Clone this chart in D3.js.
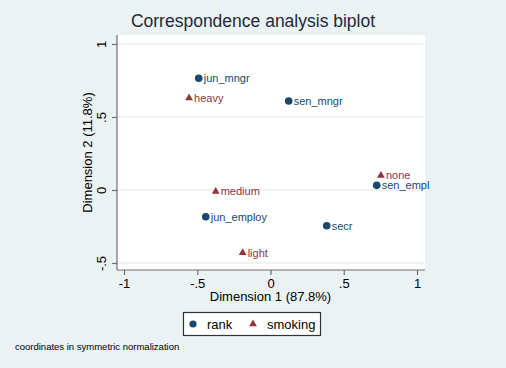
<!DOCTYPE html>
<html><head><meta charset="utf-8">
<script src="https://cdn.jsdelivr.net/npm/d3@7"></script>
<style>body{margin:0;background:#eaf2f3;}svg{display:block;}</style>
</head><body>
<svg id="c" width="506" height="368"></svg>
<script>
const rankLabels = ["jun_mngr","sen_mngr","sen_empl","jun_employ","secr"];
const rankX = [-0.49, 0.124, 0.725, -0.442, 0.384];
const rankY = [0.765, 0.61, 0.032, -0.183, -0.245];
const smokeLabels = ["heavy","none","medium","light"];
const smokeX = [-0.556, 0.754, -0.374, -0.19];
const smokeY = [0.63, 0.10, -0.01, -0.43];
const xTicks = [-1,-0.5,0,0.5,1];
const yTicks = [-0.5,0,0.5,1];
const tickFmt = v => v===0?"0":(v===1?"1":(v===-1?"-1":String(v).replace("0.",".")));

const svg = d3.select("#c");
const font = "'Liberation Sans', Arial, Helvetica, sans-serif";
svg.append("rect").attr("width",506).attr("height",368).attr("fill","#eaf2f3");

const L=117, R=425, T=35, B=270;
const x = d3.scaleLinear().domain([0,1]).range([270.5,417]);
const y = d3.scaleLinear().domain([0,1]).range([190,44]);

svg.append("rect").attr("x",L).attr("y",T).attr("width",R-L).attr("height",B-T).attr("fill","#ffffff");
// gridlines
svg.append("g").selectAll("line").data(yTicks).join("line")
  .attr("x1",L).attr("x2",R).attr("y1",d=>y(d)).attr("y2",d=>y(d))
  .attr("stroke","#eaf2f3").attr("stroke-width",1.5);

// axes
const xa = svg.append("g").attr("transform",`translate(0,${B})`)
  .call(d3.axisBottom(x).tickValues(xTicks).tickFormat(tickFmt).tickSize(5).tickPadding(4));
xa.select(".domain").attr("d",`M${L},0H${R}`);
const ya = svg.append("g").attr("transform",`translate(${L},0)`)
  .call(d3.axisLeft(y).tickValues(yTicks).tickFormat(tickFmt).tickSize(5).tickPadding(4));
ya.select(".domain").attr("d",`M0,${T}V${B}`);
[xa,ya].forEach(a=>{
  a.selectAll(".domain").attr("stroke","#6e6e6e").attr("stroke-width",1.2);
  a.selectAll(".tick line").attr("stroke","#6e6e6e").attr("stroke-width",1.2);
  a.selectAll("text").attr("font-family",font).attr("font-size",13).attr("fill","#000");
});
ya.selectAll(".tick text").attr("text-anchor","middle").attr("x",null).attr("dy",null)
  .attr("transform","translate(-14,0) rotate(-90)").attr("dominant-baseline","middle");

// axis titles
svg.append("text").attr("x",(x(-1)+x(1))/2).attr("y",301).attr("text-anchor","middle")
  .attr("font-family",font).attr("font-size",13).attr("fill","#000").text("Dimension 1 (87.8%)");
svg.append("text").attr("transform",`translate(92,${(T+B)/2}) rotate(-90)`).attr("text-anchor","middle")
  .attr("font-family",font).attr("font-size",13).attr("fill","#000").text("Dimension 2 (11.8%)");
// title
svg.append("text").attr("x",253).attr("y",27).attr("text-anchor","middle")
  .attr("font-family",font).attr("font-size",17.5).attr("fill","#1e2a3a").text("Correspondence analysis biplot");

const navy="#1a476f", maroon="#90353b";
const rank = rankLabels.map((l,i)=>({l,x:rankX[i],y:rankY[i]}));
const smoke = smokeLabels.map((l,i)=>({l,x:smokeX[i],y:smokeY[i]}));
const tri = d3.symbol().type(d3.symbolTriangle).size(26);

svg.append("g").selectAll("circle").data(rank).join("circle")
  .attr("cx",d=>x(d.x)).attr("cy",d=>y(d.y)).attr("r",3.8).attr("fill",navy);
svg.append("g").selectAll("text").data(rank).join("text")
  .attr("x",d=>x(d.x)+5).attr("y",d=>y(d.y)+4).attr("font-family",font).attr("font-size",11)
  .attr("fill",navy).text(d=>d.l);
svg.append("g").selectAll("path").data(smoke).join("path")
  .attr("d",tri).attr("transform",d=>`translate(${x(d.x)},${y(d.y)})`).attr("fill",maroon);
svg.append("g").selectAll("text").data(smoke).join("text")
  .attr("x",d=>x(d.x)+5).attr("y",d=>y(d.y)+4).attr("font-family",font).attr("font-size",11)
  .attr("fill",maroon).text(d=>d.l);

// legend
const lg = svg.append("g");
lg.append("rect").attr("x",183.5).attr("y",312.5).attr("width",137).attr("height",23)
  .attr("fill","#fff").attr("stroke","#333").attr("stroke-width",1.2);
lg.append("circle").attr("cx",193).attr("cy",324).attr("r",3.6).attr("fill",navy);
lg.append("text").attr("x",207).attr("y",329).attr("font-family",font).attr("font-size",13).text("rank");
lg.append("path").attr("d",tri).attr("transform","translate(253,324)").attr("fill",maroon);
lg.append("text").attr("x",267).attr("y",329).attr("font-family",font).attr("font-size",13).text("smoking");

svg.append("text").attr("x",15).attr("y",350).attr("font-family",font).attr("font-size",9.5)
  .attr("fill","#000").text("coordinates in symmetric normalization");
</script>
</body></html>
